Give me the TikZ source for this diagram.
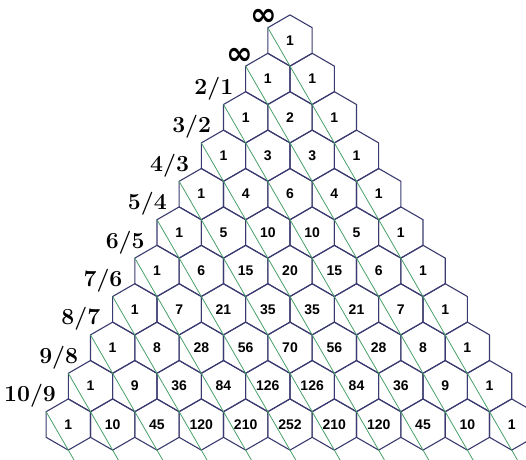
\documentclass[tikz,border=0pt]{standalone}
\usepackage{fontspec}
\usetikzlibrary{shapes.geometric, calc}
\newfontfamily\cellfont{Liberation Sans}
\newfontfamily\symfont{DejaVu Sans}
\definecolor{hexline}{RGB}{58,58,112}
\definecolor{diagline}{RGB}{72,160,104}

\begin{document}
\begin{tikzpicture}[
    x=1pt, y=-1pt,
    cell/.style={regular polygon, regular polygon sides=6, shape border rotate=30, minimum size=51.2pt,
        inner sep=0pt, outer sep=0pt, draw=hexline, line width=1.1pt,
        font=\cellfont\bfseries\fontsize{14}{14}\selectfont},
    ratio/.style={anchor=base east, inner sep=0pt, font=\bfseries\fontsize{23}{23}\selectfont},
    inf/.style={anchor=base east, inner sep=0pt, font=\symfont\bfseries\fontsize{32}{32}\selectfont},
    diag/.style={draw=diagline, line width=0.8pt}
]
    \useasboundingbox (0,0) rectangle (526,459);
    \clip (0,0) rectangle (526,459);

    % the triangle, one hexagon per entry
    \foreach \row [count=\r from 0] in {
        {1}, {1,1}, {1,2,1}, {1,3,3,1}, {1,4,6,4,1}, {1,5,10,10,5,1},
        {1,6,15,20,15,6,1}, {1,7,21,35,35,21,7,1}, {1,8,28,56,70,56,28,8,1},
        {1,9,36,84,126,126,84,36,9,1}, {1,10,45,120,210,252,210,120,45,10,1}} {
        \foreach \v [count=\k from 0] in \row {
            \node[cell] (h-\r-\k) at ({290+(\k-\r/2)*44.34}, {40.5+38.4*\r}) {\v};
        }
    }

    % diagonals
    \foreach \r in {0,...,10} {
        \pgfmathtruncatemacro{\e}{10-\r}
        \draw[diag] (h-\r-0.150) -- ($(h-\r-0.150)!1.3!(h-10-\e.270)$);
    }

    % ratios on the left
    \node[inf] (q-0) at ([shift={(10pt,2pt)}]h-0-0.150) {∞};
    \node[inf] (q-1) at ([shift={(8pt,2pt)}]h-1-0.150) {∞};
    \foreach \num/\den [count=\r from 2] in {2/1, 3/2, 4/3, 5/4, 6/5, 7/6, 8/7, 9/8, 10/9} {
        \node[ratio] (q-\r) at ([shift={(10pt,10pt)}]h-\r-0.150) {\num/\den};
    }
\end{tikzpicture}
\end{document}
